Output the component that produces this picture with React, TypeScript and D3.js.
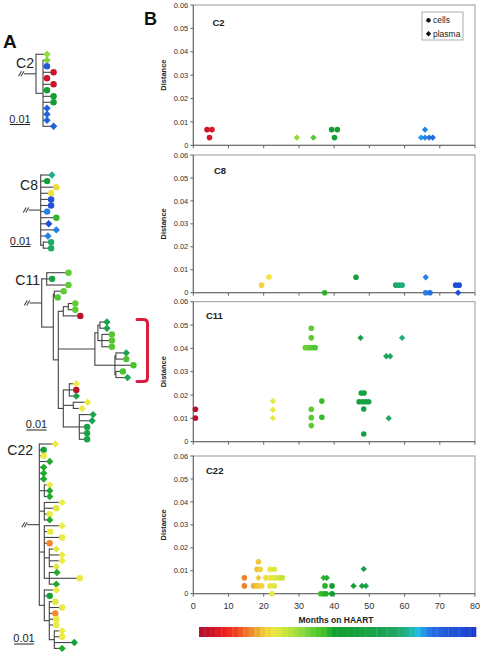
import React from 'react';
import * as d3 from 'd3';

const FONT = "'Liberation Sans', Arial, Helvetica, sans-serif";

// ---------- axes ----------
const monthTicks = [0, 10, 20, 30, 40, 50, 60, 70, 80];
const distTicks = [0, 0.01, 0.02, 0.03, 0.04, 0.05, 0.06];
const distTickLabels = ['0', '0.01', '0.02', '0.03', '0.04', '0.05', '0.06'];

// ---------- colour key (months on HAART -> colour) ----------
const colorMonths = [0, 4, 7, 10, 13, 16, 19, 22, 25, 29, 33, 36, 39, 45, 52, 58, 61, 63, 65, 67, 72, 80];
const colorValues = [
  '#b5102e', '#cc1428', '#e82020', '#f03a1e', '#f06a28', '#f09830', '#f0d040', '#eaea40',
  '#c8e43c', '#98dc3c', '#60cc34', '#40c028', '#10a030', '#14a038', '#1ca250', '#20a868',
  '#20b4a0', '#20c0e0', '#2094ec', '#2470e4', '#2258d8', '#1c3ccc'
];

// ---------- panel B data: [months, distance] ----------
const c2Cells = [[3.9, 0.0067], [5.3, 0.0067], [4.6, 0.0033], [39.3, 0.0067], [40.9, 0.0067], [40.1, 0.0033]];
const c2Plasma = [[29.4, 0.0033], [34.1, 0.0033], [65.8, 0.0067], [64.7, 0.0033], [65.8, 0.0033], [67.0, 0.0033], [68.0, 0.0033]];

const c8Cells = [[19.4, 0.0033], [21.5, 0.0068], [37.3, 0], [46.2, 0.0067], [57.5, 0.0033], [58.4, 0.0033], [59.3, 0.0033], [66.0, 0], [67.2, 0], [74.5, 0.0033], [75.5, 0.0033]];
const c8Plasma = [[66.0, 0.0067], [75.2, 0]];

const c11Cells = [[0.6, 0.0139], [0.6, 0.0101], [33.5, 0.0486], [33.5, 0.0445], [33.5, 0.0139], [33.5, 0.0103], [33.5, 0.0069],
  [31.8, 0.0403], [32.7, 0.0403], [33.7, 0.0403], [34.6, 0.0403], [36.5, 0.0174], [36.5, 0.0105],
  [47.7, 0.0209], [48.5, 0.0209], [47.1, 0.0171], [48.1, 0.0171], [49.0, 0.0171], [49.8, 0.0171], [48.4, 0.014], [48.4, 0.0033]];
const c11Plasma = [[22.6, 0.0174], [22.6, 0.0137], [22.6, 0.0101], [47.5, 0.0445], [59.3, 0.0445], [54.8, 0.0366], [55.9, 0.0366], [55.5, 0.0101]];

const c22Cells = [[14.5, 0.0069], [14.5, 0.0034], [18.5, 0.0139], [18.1, 0.0106], [19.0, 0.0106], [17.1, 0.0034], [17.9, 0.0034],
  [18.6, 0.0034], [19.4, 0.0034], [21.8, 0.0034], [23.0, 0.0034], [20.6, 0.0069], [21.7, 0.0069], [22.6, 0.0069], [23.5, 0.0069],
  [24.5, 0.0069], [25.3, 0.0069], [21.8, 0.0106], [23.0, 0.0106], [22.3, 0], [37.4, 0.0034], [39.4, 0.0034], [36.2, 0], [37.0, 0],
  [37.7, 0], [39.4, 0]];
const c22Plasma = [[18.5, 0.0069], [37.0, 0.0069], [37.9, 0.0069], [45.5, 0.0034], [47.9, 0.0034], [49.0, 0.0034], [48.4, 0.0108]];

// ---------- panel A trees (Newick; leaf = shape c/d + month) ----------
const c2Tree = '(d29:0.0041,(d31:0.0006,c72:0.0006,c4:0.0039,c4:0.0006,c4:0.0039,c40:0.0006,c40:0.0039,c40:0.0039,d70:0.0006,d70:0.0006,d70:0.0006,d70:0.0039):0.0035);';
const c8Tree = '(d60:0.0042,c41:0.0018,c20:0.0064,c21:0.0038,c74:0.0038,c74:0.0038,c66:0.0018,c37:0.0064,d75:0.0026,d66:0.0064,d66:0.0022,(c58:0.0025,c58:0.0025):0.0013);';
const c11Tree = '((c33:0.0095,c48:0.0013,c33:0.0095):0.0025,((c33:0.0033,c34:0.0003):0.0005,(((c33:0.0021,c33:0.0021):0.0025,c1:0.0071):0.0025,(((d52:0.0021,d52:0.0021):0.001,(c34:0.0036,c34:0.0036,c34:0.0036):0.002):0.0015,((d52:0.0038,c35:0.0038):0.0005,c35:0.0079,(c35:0.0021,d54:0.0044):0.0005):0.01):0.0183,((d22:0.0021,c1:0.0021,d50:0.0021):0.003,(d22:0.0058,d22:0.003):0.005,(d52:0.0055,d52:0.005,c50:0.0025,c50:0.0025,c50:0.0025):0.008):0.0025):0.0025):0.0058);';
const c22Tree = '(d22:0.0066,c42:0.0008,c22:0.0008,d38:0.0038,d38:0.0008,d38:0.0008,d38:0.0008,(d22:0.0013,d38:0.0013,d38:0.0013):0.0025,(d22:0.0075,c23:0.0046,c22:0.0013,d38:0.0013):0.0025,(d22:0.0075,c22:0.0016,c22:0.0075,c15:0.0013,(d23:0.0021,d22:0.005,d22:0.005,d23:0.0021):0.0025,(d38:0.0024,c22:0.0138,d38:0.0021):0.0025):0.0025,(d22:0.0046,c40:0.0013,(c23:0.0016,c22:0.005,c15:0.0016,c22:0.0021,c22:0.0021,(d22:0.0025,c22:0.0025,d45:0.0086,d38:0.0025):0.0025):0.0025):0.0025);';

// ---------- helpers ----------
interface TNode { name?: string; length?: number; children?: TNode[] }

function parseNewick(s: string): TNode {
  const tokens = s.split(/\s*(;|\(|\)|,|:)\s*/);
  const stack: TNode[] = [];
  let tree: TNode = {};
  for (let i = 0; i < tokens.length; i++) {
    const t = tokens[i];
    switch (t) {
      case '(': { const sub: TNode = {}; tree.children = [sub]; stack.push(tree); tree = sub; break; }
      case ',': { const sub: TNode = {}; stack[stack.length - 1].children!.push(sub); tree = sub; break; }
      case ')': tree = stack.pop()!; break;
      case ':': case ';': break;
      default: {
        const prev = tokens[i - 1];
        if (prev === ':') tree.length = parseFloat(t);
        else if (t) tree.name = t;
      }
    }
  }
  return tree;
}

const colorScale = d3.scaleLinear<string>().domain(colorMonths).range(colorValues).interpolate(d3.interpolateRgb).clamp(true);

function diamond(cx: number, cy: number, r: number) {
  return `M${cx},${cy - r}L${cx + r},${cy}L${cx},${cy + r}L${cx - r},${cy}Z`;
}

const X0 = 193.3, X1 = 475;
const xScale = d3.scaleLinear().domain([0, 80]).range([X0, X1]);
const barScale = d3.scaleLinear().domain([0, 80]).range([199, 476]);

const panels = [
  { name: 'C2', top: 5, bottom: 145.3, cells: c2Cells, plasma: c2Plasma, tx: 212.5, ty: 25.5, legend: true },
  { name: 'C8', top: 155, bottom: 292.7, cells: c8Cells, plasma: c8Plasma, tx: 214, ty: 174, legend: false },
  { name: 'C11', top: 301.7, bottom: 441.7, cells: c11Cells, plasma: c11Plasma, tx: 206, ty: 318.5, legend: false },
  { name: 'C22', top: 456, bottom: 593.7, cells: c22Cells, plasma: c22Plasma, tx: 206, ty: 474, legend: false },
];

const trees = [
  { name: 'C2', newick: c2Tree, rootX: 36, top: 54.3, step: 6.0, labelEnd: 34, labelY: 68, barX: 10, barY: 124.5 },
  { name: 'C8', newick: c8Tree, rootX: 40.7, top: 175, step: 6.1, labelEnd: 38, labelY: 190, barX: 10.5, barY: 246.5 },
  { name: 'C11', newick: c11Tree, rootX: 41.7, top: 272.7, step: 6.17, labelEnd: 40, labelY: 285, barX: 26.5, barY: 430 },
  { name: 'C22', newick: c22Tree, rootX: 39.3, top: 444, step: 5.84, labelEnd: 33, labelY: 454.5, barX: 14, barY: 644 },
];
const PX_PER_UNIT = 2000;

function Tree({ t }: { t: typeof trees[number] }) {
  const root: any = d3.hierarchy<TNode>(parseNewick(t.newick), d => d.children);
  root.each((n: any) => { n.px = n.parent ? n.parent.px + (n.data.length || 0) * PX_PER_UNIT : t.rootX; });
  let i = 0;
  root.eachAfter((n: any) => {
    if (!n.children) n.py = t.top + t.step * (i++);
    else n.py = (n.children[0].py + n.children[n.children.length - 1].py) / 2;
  });
  const nodes: any[] = root.descendants();
  const leaves: any[] = root.leaves();
  const lines: JSX.Element[] = [];
  nodes.forEach((n, k) => {
    if (n.parent) lines.push(<line key={'h' + k} x1={n.parent.px} x2={n.px} y1={n.py} y2={n.py} />);
    if (n.children) lines.push(<line key={'v' + k} x1={n.px} x2={n.px} y1={n.children[0].py - 0.5} y2={n.children[n.children.length - 1].py + 0.5} />);
  });
  const sx = root.px - 17, sy = root.py;
  let bracket: JSX.Element | null = null;
  if (t.name === 'C11') {
    const yT = leaves[8].py - 2.5, yB = leaves[17].py + 4;
    const bx0 = 137, bx1 = 147.5;
    bracket = <path d={`M${bx0},${yT}L${bx1 - 4},${yT}Q${bx1},${yT} ${bx1},${yT + 4}L${bx1},${yB - 4}Q${bx1},${yB} ${bx1 - 4},${yB}L${bx0},${yB}`}
      fill="none" stroke="#d81e3c" strokeWidth={3} strokeLinecap="round" />;
  }
  return (
    <g>
      <text x={t.labelEnd} y={t.labelY} textAnchor="end" fontSize={14} fill="#222" fontFamily={FONT}>{t.name}</text>
      <g stroke="#444" strokeWidth={1.1}>
        {lines}
        <line x1={sx + 5} x2={root.px} y1={sy} y2={sy} />
        <line x1={sx - 0.5} x2={sx + 2.5} y1={sy + 2.5} y2={sy - 2.5} />
        <line x1={sx + 2} x2={sx + 5} y1={sy + 2.5} y2={sy - 2.5} />
      </g>
      {leaves.map((n, k) => {
        const nm: string = n.data.name || 'c0';
        const m = parseFloat(nm.slice(1));
        const cx = n.px + 2.8, cy = n.py;
        return nm[0] === 'd'
          ? <path key={k} d={diamond(cx, cy, 3.7)} fill={colorScale(m)} />
          : <circle key={k} cx={cx} cy={cy} r={3.2} fill={colorScale(m)} />;
      })}
      {bracket}
      <text x={t.barX + 10} y={t.barY - 2} textAnchor="middle" fontSize={11} fill="#222" fontFamily={FONT}>0.01</text>
      <line x1={t.barX} x2={t.barX + 0.01 * PX_PER_UNIT} y1={t.barY} y2={t.barY} stroke="#222" strokeWidth={1} />
    </g>
  );
}

function Panel({ p, last }: { p: typeof panels[number]; last: boolean }) {
  const y = d3.scaleLinear().domain([0, 0.06]).range([p.bottom, p.top]);
  return (
    <g fontFamily={FONT}>
      <rect x={X0} y={p.top} width={X1 - X0} height={p.bottom - p.top} fill="none" stroke="#9a9a9a" strokeWidth={1} />
      <line x1={X0} x2={X0} y1={p.top} y2={p.bottom} stroke="#666" strokeWidth={1} />
      <line x1={X0} x2={X1} y1={p.bottom} y2={p.bottom} stroke="#666" strokeWidth={1} />
      {distTicks.map((t, i) => (
        <g key={'yt' + i}>
          <line x1={X0 - 3} x2={X0} y1={y(t)} y2={y(t)} stroke="#666" />
          <text x={X0 - 5} y={y(t)} dy="0.35em" textAnchor="end" fontSize={7.5} fill="#333">{distTickLabels[i]}</text>
        </g>
      ))}
      {monthTicks.map(m => (
        <line key={'xt' + m} x1={xScale(m)} x2={xScale(m)} y1={p.bottom} y2={p.bottom + 3} stroke="#666" />
      ))}
      {last && monthTicks.map(m => (
        <text key={'xl' + m} x={xScale(m)} y={608.5} textAnchor="middle" fontSize={9} fill="#333">{m}</text>
      ))}
      <text transform={`translate(165.5,${(p.top + p.bottom) / 2}) rotate(-90)`} textAnchor="middle" fontSize={7.5} fontWeight="bold" fill="#222">Distance</text>
      <text x={p.tx} y={p.ty} fontSize={9.5} fontWeight="bold" fill="#222">{p.name}</text>
      {p.cells.map((d, i) => (
        <circle key={'c' + i} cx={xScale(d[0])} cy={y(d[1])} r={2.8} fill={colorScale(d[0])} />
      ))}
      {p.plasma.map((d, i) => (
        <path key={'p' + i} d={diamond(xScale(d[0]), y(d[1]), 3.2)} fill={colorScale(d[0])} />
      ))}
      {p.legend && (
        <g>
          <rect x={422} y={12} width={41} height={28} fill="#fff" stroke="#999" strokeWidth={0.8} />
          <circle cx={428.5} cy={20.2} r={2.2} fill="#111" />
          <text x={433} y={23} fontSize={8.5} fill="#222">cells</text>
          <path d={diamond(428.5, 33.7, 2.7)} fill="#111" />
          <text x={433} y={36.6} fontSize={8.5} fill="#222">plasma</text>
        </g>
      )}
    </g>
  );
}

export default function App() {
  const nSeg = 50;
  const segW = 80 / nSeg;
  const segs = d3.range(nSeg).map(i => i * segW);
  return (
    <svg width={484} height={654} style={{ position: 'absolute', left: 0, top: 0, background: '#fff' }}>
      <rect x={0} y={0} width={484} height={654} fill="#fff" />
      <text x={3} y={48} fontSize={19} fontWeight="bold" fill="#111" fontFamily={FONT}>A</text>
      <text x={144} y={25} fontSize={18} fontWeight="bold" fill="#111" fontFamily={FONT}>B</text>
      {trees.map(t => <Tree key={t.name} t={t} />)}
      {panels.map((p, i) => <Panel key={p.name} p={p} last={i === panels.length - 1} />)}
      <text x={336} y={623} textAnchor="middle" fontSize={8.5} fontWeight="bold" fill="#222" fontFamily={FONT}>Months on HAART</text>
      {segs.map((m, i) => (
        <rect key={'cb' + i} x={barScale(m)} y={627} width={barScale(m + segW) - barScale(m) + 0.3} height={10} fill={colorScale(m + segW / 2)} />
      ))}
    </svg>
  );
}
